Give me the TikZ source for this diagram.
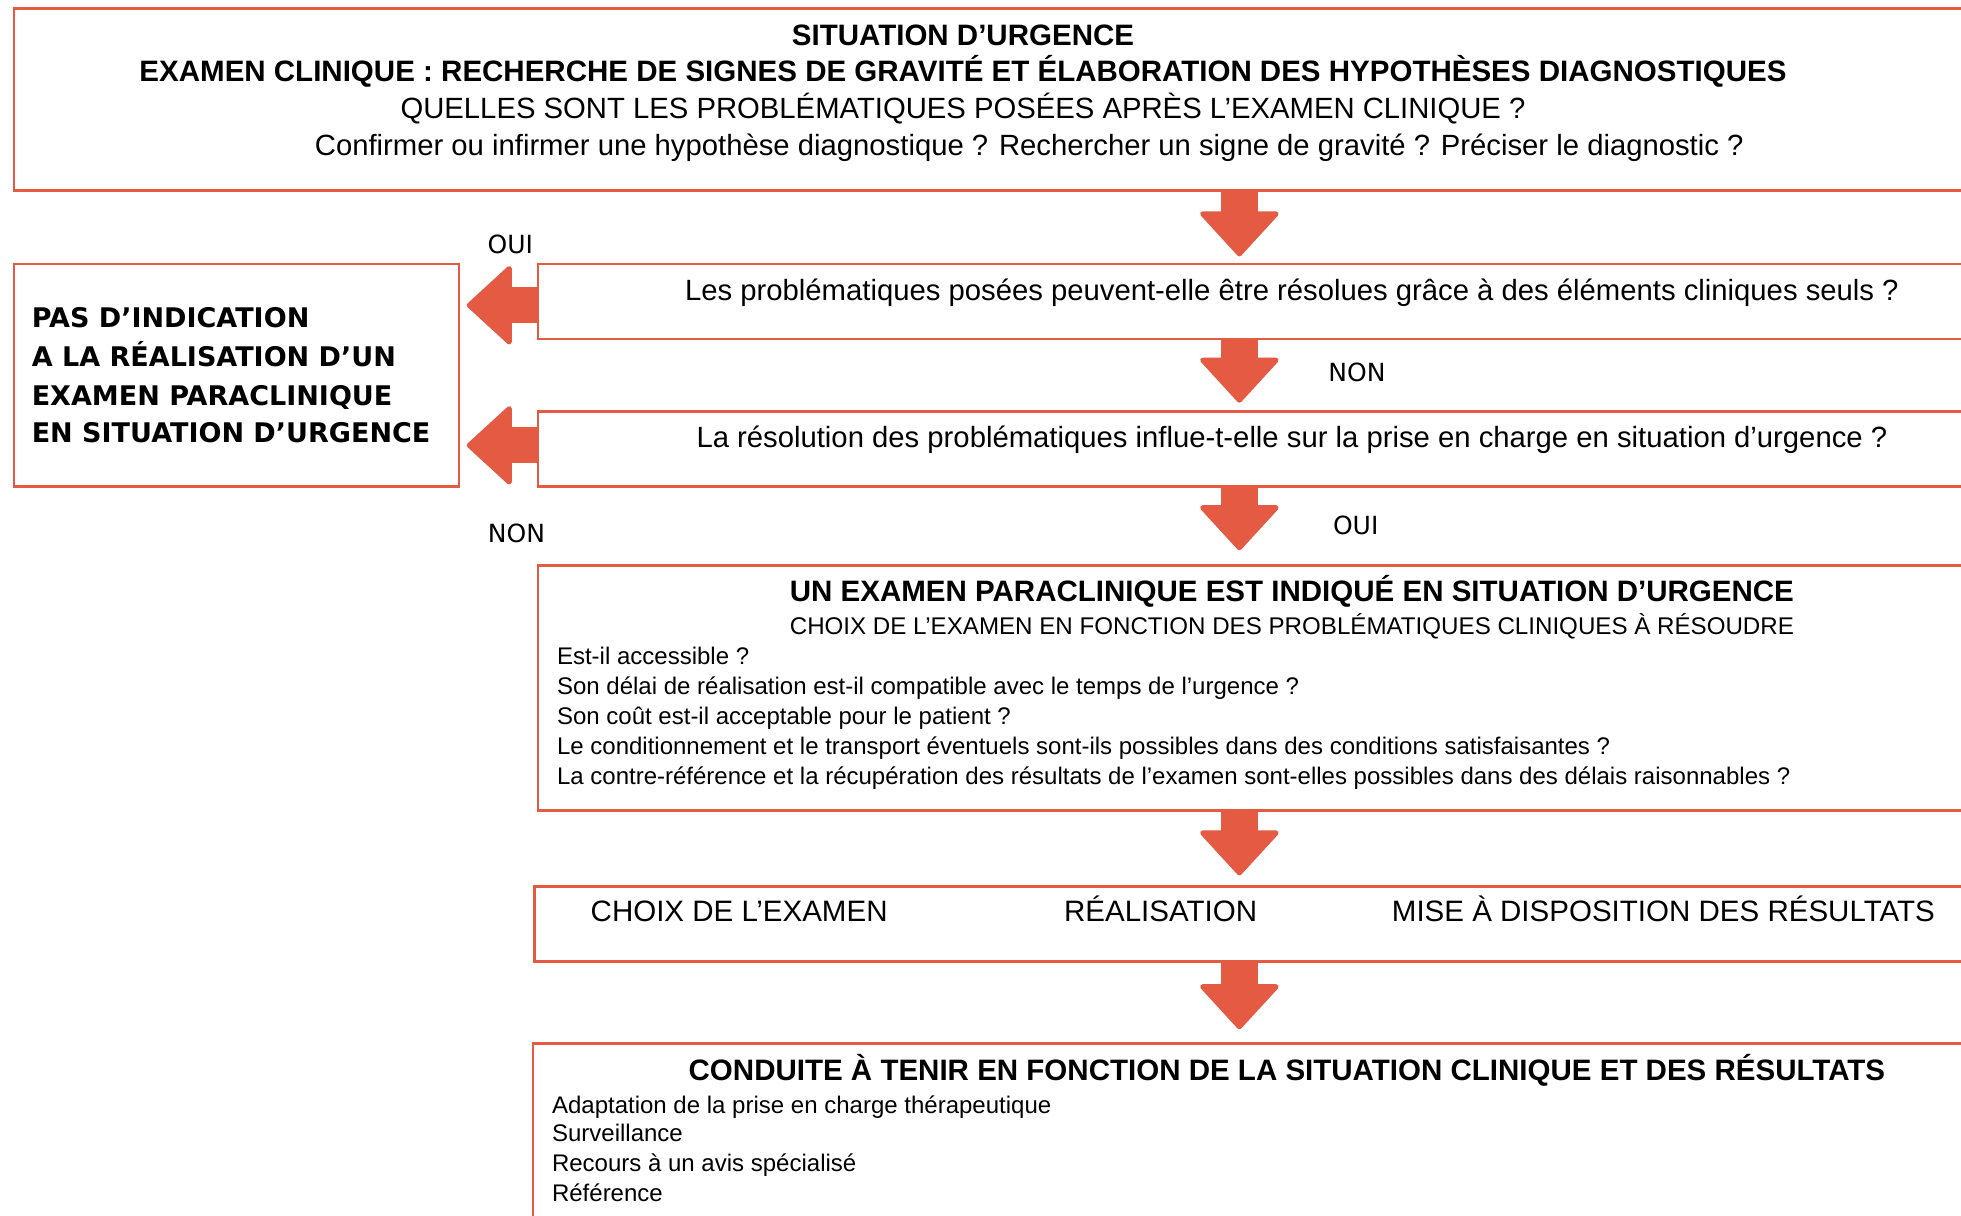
\documentclass[tikz,border=0pt]{standalone}
\usepackage{fontspec}
\setmainfont{Liberation Sans}
\newfontfamily\verd{DejaVu Sans}
\usetikzlibrary{arrows.meta}
\definecolor{rouge}{RGB}{228,90,66}

\begin{document}
\begin{tikzpicture}[x=0.5pt,y=-0.5pt,
    every node/.style={inner sep=0pt},
    boite/.style={draw=rouge, line width=1.1pt, rectangle, anchor=north west, minimum width=800pt},
    fleche/.style={draw=rouge, line width=14.5pt, -{Triangle[round, line width=2pt, length=18.5pt, width=33.5pt]}},
    grand/.style={font=\fontsize{11.7}{14}\selectfont},
    grandgras/.style={font=\fontsize{11.8}{14}\selectfont\bfseries},
    petit/.style={font=\fontsize{9.6}{12}\selectfont},
    pasfont/.style={font=\verd\bfseries\fontsize{10.8}{12}\selectfont},
    etiq/.style={font=\verd\fontsize{10}{12}\selectfont}]
  \clip (0,0) rectangle (1568,972);
  \fill[white] (0,0) rectangle (1568,972);

  % les cadres
  \node[boite, minimum height=72.5pt] (situation) at (10,6) {};
  \node[boite, minimum height=30pt] (q1) at (429,210) {};
  \node[boite, minimum height=30pt] (q2) at (429,328) {};
  \node[boite, minimum width=178pt, minimum height=89pt] (pasind) at (10,210) {};
  \node[boite, minimum height=98pt] (indique) at (429,451) {};
  \node[boite, minimum height=30pt] (etapes) at (426,708) {};
  \node[boite, minimum height=100pt] (conduite) at (425,833) {};

  % les textes
  \node[grandgras, anchor=base] (t1) at (770,36) {SITUATION D’URGENCE};
  \node[grandgras, anchor=base] (t2) at (770,65) {EXAMEN CLINIQUE : RECHERCHE DE SIGNES DE GRAVITÉ ET ÉLABORATION DES HYPOTHÈSES DIAGNOSTIQUES};
  \node[grand, anchor=base] (t3) at (770,95) {QUELLES SONT LES PROBLÉMATIQUES POSÉES APRÈS L’EXAMEN CLINIQUE ?};
  \node[grand, anchor=base] (t4) at (823,124) {Confirmer ou infirmer une hypothèse diagnostique ? Rechercher un signe de gravité ? Préciser le diagnostic ?};

  \node[grand, anchor=base] (tq1) at (1033,240) {Les problématiques posées peuvent-elle être résolues grâce à des éléments cliniques seuls ?};
  \node[grand, anchor=base] (tq2) at (1033,358) {La résolution des problématiques influe-t-elle sur la prise en charge en situation d’urgence ?};

  \node[pasfont, anchor=base west] (p1) at (25,262) {PAS D’INDICATION};
  \node[pasfont, anchor=base west] (p2) at (25,293) {A LA RÉALISATION D’UN};
  \node[pasfont, anchor=base west] (p3) at (25,324) {EXAMEN PARACLINIQUE};
  \node[pasfont, anchor=base west] (p4) at (25,354) {EN SITUATION D’URGENCE};

  \node[grandgras, anchor=base] (ti) at (1033,481) {UN EXAMEN PARACLINIQUE EST INDIQUÉ EN SITUATION D’URGENCE};
  \node[font=\fontsize{9.65}{12}\selectfont, anchor=base] (ti2) at (1033,507) {CHOIX DE L’EXAMEN EN FONCTION DES PROBLÉMATIQUES CLINIQUES À RÉSOUDRE};
  \node[petit, anchor=base west] (i1) at (445,531) {Est-il accessible ?};
  \node[petit, anchor=base west] (i2) at (445,555) {Son délai de réalisation est-il compatible avec le temps de l’urgence ?};
  \node[petit, anchor=base west] (i3) at (445,579) {Son coût est-il acceptable pour le patient ?};
  \node[petit, anchor=base west] (i4) at (445,603) {Le conditionnement et le transport éventuels sont-ils possibles dans des conditions satisfaisantes ?};
  \node[petit, anchor=base west] (i5) at (445,627) {La contre-référence et la récupération des résultats de l’examen sont-elles possibles dans des délais raisonnables ?};

  \node[font=\fontsize{11.8}{14}\selectfont, anchor=base] (e1) at (591,737) {CHOIX DE L’EXAMEN};
  \node[font=\fontsize{11.8}{14}\selectfont, anchor=base] (e2) at (928,737) {RÉALISATION};
  \node[font=\fontsize{11.8}{14}\selectfont, anchor=base] (e3) at (1330,737) {MISE À DISPOSITION DES RÉSULTATS};

  \node[grandgras, anchor=base] (tc) at (1029,864) {CONDUITE À TENIR EN FONCTION DE LA SITUATION CLINIQUE ET DES RÉSULTATS};
  \node[petit, anchor=base west] (c1) at (441,890) {Adaptation de la prise en charge thérapeutique};
  \node[petit, anchor=base west] (c2) at (441,913) {Surveillance};
  \node[petit, anchor=base west] (c3) at (441,937) {Recours à un avis spécialisé};
  \node[petit, anchor=base west] (c4) at (441,961) {Référence};

  % les reponses
  \node[etiq, anchor=base] (oui1) at (408,203) {OUI};
  \node[etiq, anchor=base] (non1) at (413,434) {NON};
  \node[etiq, anchor=base] (non2) at (1085,305) {NON};
  \node[etiq, anchor=base] (oui2) at (1084,427) {OUI};

  % les fleches
  \coordinate (axe) at (991,0);
  \draw[fleche, shorten >=2.5pt] (situation.south -| axe) -- (q1.north -| axe);
  \draw[fleche, shorten >=3pt] (q1.south -| axe) -- (q2.north -| axe);
  \draw[fleche, shorten >=5.5pt] (q2.south -| axe) -- (indique.north -| axe);
  \draw[fleche, shorten >=4pt] (indique.south -| axe) -- (etapes.north -| axe);
  \draw[fleche, shorten >=5pt] (etapes.south -| axe) -- (conduite.north -| axe);
  \draw[fleche, shorten >=2.5pt] ([yshift=-1.5pt]q1.west) -- ([yshift=-1.5pt]q1.west -| pasind.east);
  \draw[fleche, shorten >=2.5pt] ([yshift=1.5pt]q2.west) -- ([yshift=1.5pt]q2.west -| pasind.east);
\end{tikzpicture}
\end{document}
